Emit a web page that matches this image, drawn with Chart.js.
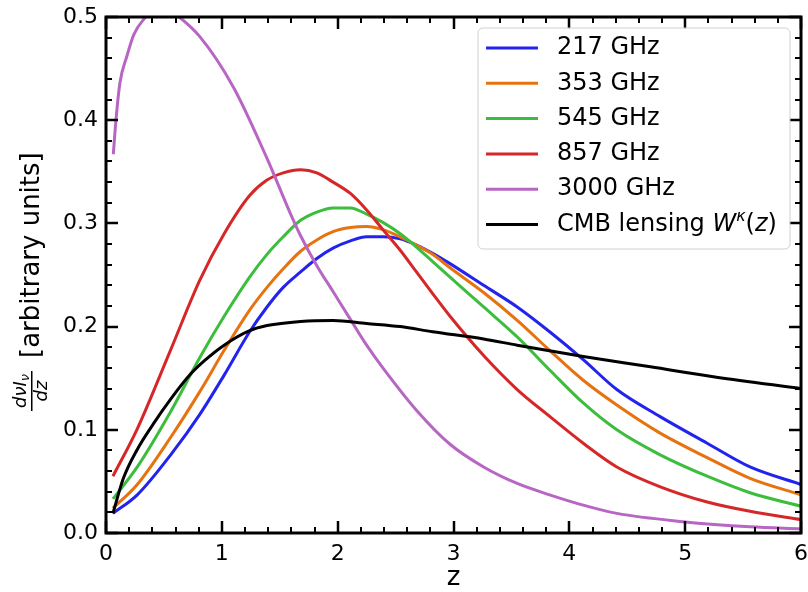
<!DOCTYPE html>
<html>
<head>
<meta charset="utf-8">
<script src="https://cdn.jsdelivr.net/npm/chart.js@4.4.1/dist/chart.umd.min.js"></script>
<style>
  html, body { margin: 0; padding: 0; background: #fff; }
  #wrap { width: 808px; height: 592px; }
</style>
</head>
<body>
<div id="wrap"><canvas id="chart" width="808" height="592"></canvas></div>
<script>
// Redshift grid shared by the CIB curves
const zGrid = [0.06, 0.27, 0.56, 0.81, 1.02, 1.24, 1.39, 1.53, 1.68, 1.82, 1.96, 2.11, 2.25, 2.39,
  2.54, 2.68, 2.82, 2.97, 3.26, 3.55, 3.83, 4.12, 4.41, 4.78, 5.19, 5.56, 6.0];

const cib217 = [0.019, 0.037, 0.076, 0.115, 0.153, 0.195, 0.219, 0.238, 0.253, 0.266, 0.276, 0.283, 0.287, 0.287,
  0.285, 0.279, 0.271, 0.261, 0.240, 0.219, 0.195, 0.168, 0.139, 0.113, 0.087, 0.064, 0.047];
const cib353 = [0.024, 0.047, 0.093, 0.137, 0.177, 0.216, 0.238, 0.256, 0.273, 0.284, 0.292, 0.296, 0.297, 0.294,
  0.287, 0.279, 0.270, 0.257, 0.233, 0.206, 0.177, 0.148, 0.124, 0.097, 0.073, 0.053, 0.037];
const cib545 = [0.033, 0.064, 0.118, 0.170, 0.210, 0.248, 0.270, 0.287, 0.303, 0.311, 0.315, 0.315, 0.309, 0.301,
  0.290, 0.277, 0.263, 0.248, 0.219, 0.190, 0.158, 0.126, 0.100, 0.076, 0.055, 0.039, 0.026];
const cib857 = [0.055, 0.101, 0.178, 0.245, 0.290, 0.327, 0.342, 0.349, 0.352, 0.349, 0.340, 0.329, 0.313, 0.294,
  0.274, 0.253, 0.232, 0.210, 0.172, 0.139, 0.113, 0.087, 0.064, 0.045, 0.030, 0.021, 0.013];

// 3000 GHz rises steeply at low z, so it has its own grid
const z3000 = [0.063, 0.086, 0.12, 0.18, 0.24, 0.32, 0.48, 0.61, 0.81, 1.10, 1.39, 1.59, 1.68, 1.82, 1.96,
  2.11, 2.25, 2.39, 2.68, 2.97, 3.26, 3.55, 3.83, 4.12, 4.41, 4.98, 5.56, 6.0];
const cib3000 = [0.367, 0.400, 0.436, 0.462, 0.483, 0.497, 0.512, 0.502, 0.481, 0.432, 0.363, 0.310, 0.288, 0.259, 0.234,
  0.207, 0.182, 0.160, 0.119, 0.086, 0.064, 0.048, 0.037, 0.027, 0.019, 0.011, 0.006, 0.004];

// CMB lensing kernel
const zLens = [0.06, 0.15, 0.27, 0.41, 0.56, 0.73, 0.85, 1.02, 1.24, 1.39, 1.68, 1.96, 2.25, 2.54, 2.82,
  3.26, 3.55, 4.12, 4.70, 5.27, 6.0];
const lensKernel = [0.019, 0.053, 0.081, 0.106, 0.130, 0.154, 0.167, 0.182, 0.196, 0.201, 0.205, 0.206, 0.203, 0.200, 0.195,
  0.188, 0.182, 0.171, 0.161, 0.151, 0.140];

const labels = ["217 GHz", "353 GHz", "545 GHz", "857 GHz", "3000 GHz", "CMB lensing"];
const colors = ["#2323ee", "#e6730f", "#3dbd3d", "#d62728", "#b866c4", "#000000"];

const FONT = "DejaVu Sans";

function pts(xs, ys) {
  return xs.map((x, i) => ({ x, y: ys[i] }));
}

const series = [
  pts(zGrid, cib217), pts(zGrid, cib353), pts(zGrid, cib545),
  pts(zGrid, cib857), pts(z3000, cib3000), pts(zLens, lensKernel)
];

// Inward ticks on all four sides + thick frame
const framePlugin = {
  id: "frame",
  afterDatasetsDraw(chart) {
    const { ctx, chartArea: a, scales: { x, y } } = chart;
    ctx.save();
    ctx.strokeStyle = "#000";
    const line = (x1, y1, x2, y2) => { ctx.beginPath(); ctx.moveTo(x1, y1); ctx.lineTo(x2, y2); ctx.stroke(); };
    for (let i = 0; i <= 30; i++) {
      const major = i % 5 === 0;
      const px = Math.round(x.getPixelForValue(i * 0.2));
      const len = major ? 12 : 6;
      ctx.lineWidth = major ? 2.5 : 2;
      line(px, a.bottom, px, a.bottom - len);
      line(px, a.top, px, a.top + len);
    }
    for (let i = 0; i <= 25; i++) {
      const major = i % 5 === 0;
      const py = Math.round(y.getPixelForValue(i * 0.02));
      const len = major ? 12 : 6;
      ctx.lineWidth = major ? 2.5 : 2;
      line(a.left, py, a.left + len, py);
      line(a.right, py, a.right - len, py);
    }
    ctx.lineWidth = 3;
    ctx.strokeRect(a.left, a.top, a.right - a.left, a.bottom - a.top);
    ctx.restore();
  }
};

// Axis titles and the legend box inside the plot
const annotPlugin = {
  id: "annot",
  afterDraw(chart) {
    const { ctx, chartArea: a } = chart;
    ctx.save();
    ctx.fillStyle = "#000";

    // x title
    ctx.font = `26px "${FONT}"`;
    ctx.textAlign = "center";
    ctx.textBaseline = "alphabetic";
    ctx.fillText("z", (a.left + a.right) / 2, 585);

    // y title: fraction d nu I_nu / dz, then [arbitrary units]
    ctx.save();
    ctx.translate(0, 275);
    ctx.rotate(-Math.PI / 2);
    ctx.textAlign = "left";
    ctx.font = `26px "${FONT}"`;
    ctx.fillText("[arbitrary units]", -83, 39);
    const fc = -116; // fraction centre
    ctx.font = `italic 18px "${FONT}"`;
    const numMain = "d\u03BDI";
    const wMain = ctx.measureText(numMain).width;
    ctx.font = `italic 13px "${FONT}"`;
    const wSub = ctx.measureText("\u03BD").width;
    const nStart = fc - (wMain + wSub) / 2;
    ctx.font = `italic 18px "${FONT}"`;
    ctx.fillText(numMain, nStart, 26);
    ctx.font = `italic 13px "${FONT}"`;
    ctx.fillText("\u03BD", nStart + wMain, 29);
    ctx.font = `italic 18px "${FONT}"`;
    const wDen = ctx.measureText("dz").width;
    ctx.fillText("dz", fc - wDen / 2, 47);
    ctx.fillRect(fc - 20, 31, 40, 1.5);
    ctx.restore();

    // legend
    const bx = 478, by = 28, bw = 312, bh = 221, r = 5;
    ctx.beginPath();
    ctx.moveTo(bx + r, by);
    ctx.arcTo(bx + bw, by, bx + bw, by + bh, r);
    ctx.arcTo(bx + bw, by + bh, bx, by + bh, r);
    ctx.arcTo(bx, by + bh, bx, by, r);
    ctx.arcTo(bx, by, bx + bw, by, r);
    ctx.closePath();
    ctx.fillStyle = "rgba(255,255,255,0.8)";
    ctx.fill();
    ctx.strokeStyle = "#d0d0d0";
    ctx.lineWidth = 1;
    ctx.stroke();

    ctx.textAlign = "left";
    ctx.textBaseline = "middle";
    chart.data.datasets.forEach((ds, i) => {
      const cy = 48 + i * 35.3;
      ctx.strokeStyle = ds.borderColor;
      ctx.lineWidth = 3;
      ctx.beginPath();
      ctx.moveTo(486, cy);
      ctx.lineTo(538, cy);
      ctx.stroke();
      ctx.fillStyle = "#000";
      let tx = 557;
      ctx.font = `24px "${FONT}"`;
      if (i < 5) {
        ctx.fillText(ds.label, tx, cy);
      } else {
        const parts = [
          ["CMB lensing ", `24px "${FONT}"`, 0],
          ["W", `italic 24px "${FONT}"`, 0],
          ["\u03BA", `italic 16px "${FONT}"`, -8],
          ["(", `24px "${FONT}"`, 0],
          ["z", `italic 24px "${FONT}"`, 0],
          [")", `24px "${FONT}"`, 0]
        ];
        parts.forEach(([t, f, dy]) => {
          ctx.font = f;
          ctx.fillText(t, tx, cy + dy);
          tx += ctx.measureText(t).width;
        });
      }
    });
    ctx.restore();
  }
};

const chart = new Chart(document.getElementById("chart"), {
  type: "line",
  data: {
    datasets: series.map((data, i) => ({
      label: labels[i],
      data,
      borderColor: colors[i],
      backgroundColor: colors[i],
      borderWidth: 3,
      pointRadius: 0,
      fill: false,
      cubicInterpolationMode: "monotone",
      order: labels.length - i
    }))
  },
  options: {
    responsive: false,
    animation: false,
    layout: { padding: { top: 17, right: 7, bottom: 0, left: 0 } },
    plugins: {
      legend: { display: false },
      tooltip: { enabled: false }
    },
    scales: {
      x: {
        type: "linear",
        min: 0,
        max: 6,
        grid: { display: false, drawTicks: false },
        border: { display: false },
        ticks: { stepSize: 1, color: "#000", padding: 8, font: { family: FONT, size: 22 } },
        afterFit(s) { s.height = 59; s.paddingLeft = 0; s.paddingRight = 0; }
      },
      y: {
        type: "linear",
        min: 0,
        max: 0.5,
        grid: { display: false, drawTicks: false },
        border: { display: false },
        ticks: {
          stepSize: 0.1,
          color: "#000",
          padding: 8,
          font: { family: FONT, size: 22 },
          callback: v => v.toFixed(1)
        },
        afterFit(s) { s.width = 106; s.paddingTop = 0; s.paddingBottom = 0; }
      }
    }
  },
  plugins: [framePlugin, annotPlugin]
});
</script>
</body>
</html>
